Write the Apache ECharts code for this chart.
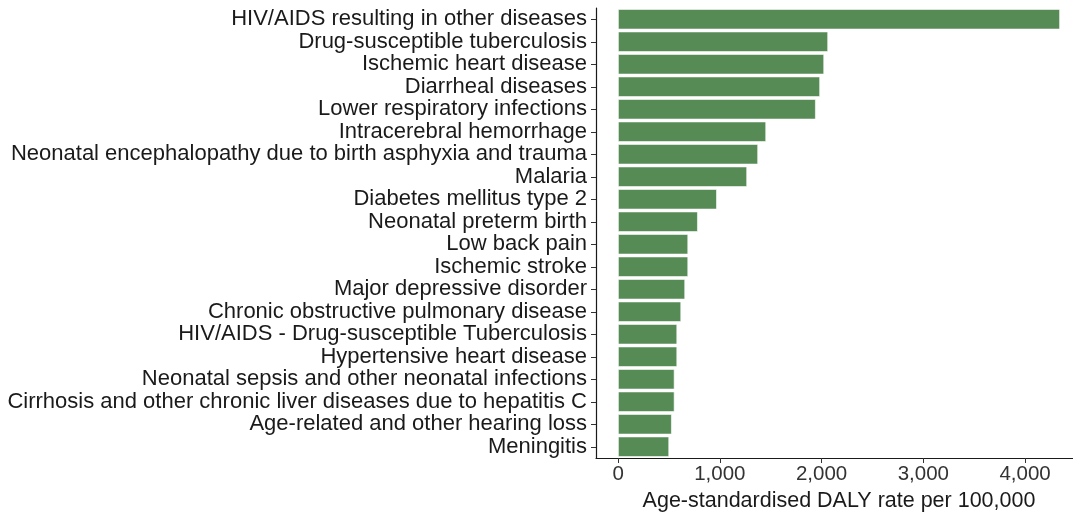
<!DOCTYPE html>
<html lang="en">
<head>
    <meta charset="UTF-8">
    <title>DALY rate</title>
    <script src="https://cdn.jsdelivr.net/npm/echarts@6.0.0/dist/echarts.min.js"></script>
    <style>
        body { margin: 0; background: #fff; }
        #chart { width: 1073px; height: 516px; }
    </style>
</head>
<body>
    <div id="chart"></div>
<script>
    // causes, top to bottom as in the picture
    var causes = [
        'HIV/AIDS resulting in other diseases',
        'Drug-susceptible tuberculosis',
        'Ischemic heart disease',
        'Diarrheal diseases',
        'Lower respiratory infections',
        'Intracerebral hemorrhage',
        'Neonatal encephalopathy due to birth asphyxia and trauma',
        'Malaria',
        'Diabetes mellitus type 2',
        'Neonatal preterm birth',
        'Low back pain',
        'Ischemic stroke',
        'Major depressive disorder',
        'Chronic obstructive pulmonary disease',
        'HIV/AIDS - Drug-susceptible Tuberculosis',
        'Hypertensive heart disease',
        'Neonatal sepsis and other neonatal infections',
        'Cirrhosis and other chronic liver diseases due to hepatitis C',
        'Age-related and other hearing loss',
        'Meningitis'
    ];
    var dalyRate = [4342, 2063, 2024, 1984, 1942, 1454, 1375, 1267, 970, 783,
                    688, 688, 658, 619, 580, 580, 554, 554, 527, 501];
    var xTicks = [0, 1000, 2000, 3000, 4000];

    var chart = echarts.init(document.getElementById('chart'));
    var option = {
        animation: false,
        grid: { left: 596, right: -9, top: 8, bottom: 58, outerBoundsMode: 'none' },
        xAxis: {
            type: 'value',
            min: -217,
            max: 4559,
            name: 'Age-standardised DALY rate per 100,000',
            nameLocation: 'middle',
            nameGap: 31,
            nameTextStyle: { fontFamily: 'Liberation Sans', fontSize: 21.5, color: '#1a1a1a' },
            splitLine: { show: false },
            axisLine: { show: true, onZero: false, lineStyle: { color: '#1a1a1a', width: 1.2 } },
            axisTick: { show: true, length: 5, customValues: xTicks, lineStyle: { color: '#333' } },
            axisLabel: {
                customValues: xTicks,
                fontFamily: 'Liberation Sans', fontSize: 20.5, color: '#333', margin: 6,
                formatter: function (v) { return v.toLocaleString('en-US'); }
            }
        },
        yAxis: {
            type: 'category',
            data: causes,
            inverse: true,
            axisLine: { show: true, onZero: false, lineStyle: { color: '#1a1a1a', width: 1.2 } },
            axisTick: { show: true, length: 5, interval: 0, alignWithLabel: true, lineStyle: { color: '#333' } },
            axisLabel: { interval: 0, fontFamily: 'Liberation Sans', fontSize: 22, color: '#1a1a1a', margin: 9 },
            boundaryGap: true
        },
        series: [{
            type: 'bar',
            data: dalyRate,
            barCategoryGap: '10%',
            itemStyle: { color: '#568b55', borderColor: '#ffffff', borderWidth: 0.6 }
        }]
    };
    chart.setOption(option);
</script>
</body>
</html>
